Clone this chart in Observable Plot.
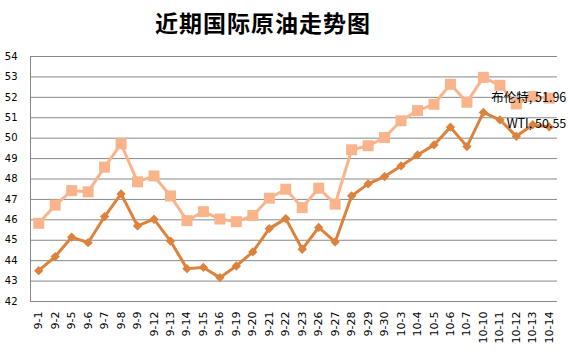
<!DOCTYPE html>
<html>
<head>
<meta charset="utf-8">
<script src="https://cdn.jsdelivr.net/npm/d3@7"></script>
<script src="https://cdn.jsdelivr.net/npm/@observablehq/plot@0.6"></script>
<style>
  html, body { margin: 0; padding: 0; background: #fff; }
  #wrap { position: relative; width: 568px; height: 352px; overflow: hidden; }
  #title { position: absolute; left: 155px; top: 6px; font-family: "Noto Sans CJK SC", sans-serif; font-weight: bold; font-size: 23px; line-height: 32px; color: #000; letter-spacing: 1px; }
  #chart { position: absolute; left: 0; top: 45px; }
  #chart svg { overflow: visible; }
</style>
</head>
<body>
<div id="wrap">
  <div id="title">近期国际原油走势图</div>
  <div id="chart"></div>
</div>
<script>
const dates = ["9-1","9-2","9-5","9-6","9-7","9-8","9-9","9-12","9-13","9-14","9-15","9-16","9-19","9-20","9-21","9-22","9-23","9-26","9-27","9-28","9-29","9-30","10-3","10-4","10-5","10-6","10-7","10-10","10-11","10-12","10-13","10-14"];
const brent = [45.83,46.72,47.43,47.37,48.58,49.72,47.86,48.15,47.17,45.96,46.40,46.04,45.91,46.21,47.06,47.50,46.60,47.55,46.77,49.43,49.63,50.03,50.85,51.35,51.66,52.64,51.76,52.98,52.59,51.68,52.04,51.96];
const wti = [43.51,44.20,45.15,44.88,46.16,47.27,45.70,46.03,44.96,43.61,43.67,43.17,43.74,44.43,45.57,46.06,44.56,45.63,44.92,47.17,47.76,48.12,48.64,49.18,49.67,50.54,49.59,51.26,50.90,50.09,50.66,50.55];
const seriesNames = ["布伦特", "WTI"];
const yTicks = [42,43,44,45,46,47,48,49,50,51,52,53,54];

const brentColor = "#F9B48B";
const wtiColor = "#DC823C";

const brentData = dates.map((d, i) => ({date: d, value: brent[i]}));
const wtiData = dates.map((d, i) => ({date: d, value: wti[i]}));
const lastIdx = dates.length - 1;
const brentLabel = [{date: dates[lastIdx], value: brent[lastIdx], text: `${seriesNames[0]}, ${brent[lastIdx].toFixed(2)}`}];
const wtiLabel = [{date: dates[lastIdx], value: wti[lastIdx], text: `${seriesNames[1]}, ${wti[lastIdx].toFixed(2)}`}];

const chart = Plot.plot({
  width: 568,
  height: 307,
  marginLeft: 30,
  marginRight: 11,
  marginTop: 11,
  marginBottom: 51,
  style: {fontFamily: "DejaVu Sans", background: "#fff", overflow: "visible"},
  x: {type: "point", domain: dates, padding: 0.5, round: false},
  y: {domain: [42, 54]},
  marks: [
    Plot.ruleY(yTicks, {stroke: "#888888", strokeWidth: 1}),
    Plot.frame({anchor: "left", stroke: "#888888", strokeWidth: 1}),
    Plot.axisY({ticks: yTicks, tickSize: 0, tickPadding: 13, label: null, fontSize: 10, fill: "#000", tickFormat: d => String(d)}),
    Plot.axisX({tickSize: 0, tickPadding: 10, tickRotate: -90, label: null, fontSize: 11, fill: "#000"}),
    Plot.line(brentData, {x: "date", y: "value", stroke: brentColor, strokeWidth: 3}),
    Plot.dot(brentData, {x: "date", y: "value", symbol: "square", r: 6.2, fill: brentColor, stroke: null}),
    Plot.line(wtiData, {x: "date", y: "value", stroke: wtiColor, strokeWidth: 3}),
    Plot.dot(wtiData, {x: "date", y: "value", symbol: "diamond2", r: 4.2, fill: wtiColor, stroke: null}),
    Plot.text(brentLabel, {x: "date", y: "value", text: "text", textAnchor: "end", dx: 17, dy: 0, fontSize: 12.5, fontFamily: "Noto Sans CJK SC", fill: "#000"}),
    Plot.text(wtiLabel, {x: "date", y: "value", text: "text", textAnchor: "end", dx: 17, dy: -3, fontSize: 12.5, fontFamily: "Noto Sans CJK SC", fill: "#000"})
  ]
});
document.getElementById("chart").appendChild(chart);
</script>
</body>
</html>
